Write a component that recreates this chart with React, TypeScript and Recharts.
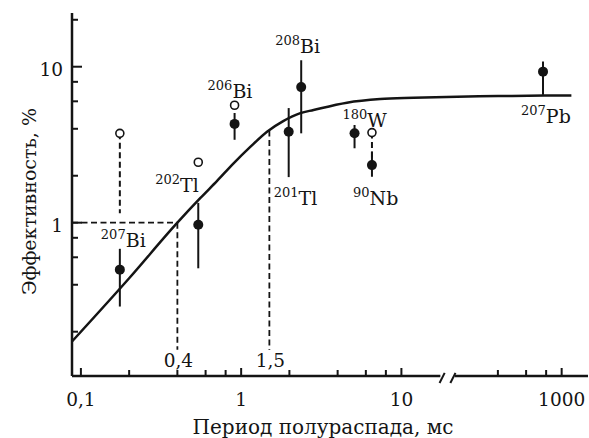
import React from 'react';
import {
  ComposedChart,
  Line,
  Scatter,
  XAxis,
  YAxis,
  ErrorBar,
  ReferenceLine,
} from 'recharts';

// ---- measured isotopes: half-life (ms) and efficiency (%) ----
const massNumbers = ['207', '202', '206', '201', '208', '180', '90', '207'];
const elements = ['Bi', 'Tl', 'Bi', 'Tl', 'Bi', 'W', 'Nb', 'Pb'];
const halfLife = [0.175, 0.54, 0.91, 1.98, 2.37, 5.1, 6.55, 765];
const efficiency = [0.5, 0.97, 4.3, 3.83, 7.4, 3.74, 2.34, 9.3];
const efficiencyLow = [0.29, 0.51, 3.4, 1.96, 3.74, 3.0, 1.97, 6.6];
const efficiencyHigh = [0.68, 1.34, 5.05, 5.43, 11.0, 4.23, 2.85, 10.8];
// label placement relative to the point (px)
const labelDx = [-19, -43, -27, -15, -26, -12, -19, -22];
const labelDy = [-23, -33, -26, 73, -34, -6, 40, 51];

// ---- alternative (open circle) estimates ----
const openHalfLife = [0.175, 0.54, 0.91, 6.55];
const openEfficiency = [3.74, 2.44, 5.66, 3.78];
// dashed guides from open circles down to these values (null = none)
const openGuideTo: (number | null)[] = [1.15, null, null, 2.34];

// ---- fitted curve ----
const curveHalfLife = [0.088, 0.2, 0.4, 0.557, 0.71, 0.9, 1.14, 1.45, 1.83, 2.34, 2.83, 4.57, 7.37, 11.9, 305, 490, 1150];
const curveEfficiency = [0.173, 0.44, 1.0, 1.44, 1.86, 2.41, 3.06, 3.83, 4.48, 5.04, 5.28, 5.88, 6.2, 6.32, 6.47, 6.5, 6.55];

// ---- axes ----
const xTicks = [0.1, 0.2, 0.4, 0.6, 0.8, 1, 2, 4, 6, 8, 10, 400, 600, 800, 1000];
const xTickLabels: Record<number, string> = { 0.1: '0,1', 1: '1', 10: '10', 1000: '1000' };
const yTicks = [0.2, 0.4, 0.6, 0.8, 1, 2, 4, 6, 8, 10, 20];
const yTickLabels: Record<number, string> = { 1: '1', 10: '10' };
const xRange = [0.088, 1460];
const yRange = [0.104, 22.1];
// broken x axis: the left part ends, the right part starts
const xBreak = [17.5, 215];

// ---- guide lines ----
const guideLevel = 1; // efficiency level
const guideTimes = [0.4, 1.5];
const guideTimeLabels = ['0,4', '1,5'];
const guideTop = [1, 3.9];
const guideBottom = 0.153;

const INK = '#141414';
const FONT = '"DejaVu Serif", serif';

// compressed log scale: the right part of the axis is shifted by one decade
const px = (t: number) => (t >= 100 ? Math.log10(t) - 1 : Math.log10(t));
const py = (e: number) => Math.log10(e);

const points = halfLife.map((t, i) => ({
  px: px(t),
  py: py(efficiency[i]),
  err: [py(efficiency[i]) - py(efficiencyLow[i]), py(efficiencyHigh[i]) - py(efficiency[i])],
  mass: massNumbers[i],
  element: elements[i],
  dx: labelDx[i],
  dy: labelDy[i],
}));
const openPoints = openHalfLife.map((t, i) => ({ px: px(t), py: py(openEfficiency[i]) }));
const curve = curveHalfLife.map((t, i) => ({ px: px(t), py: py(curveEfficiency[i]) }));

const XTick = (props: any) => {
  const { x, y, payload } = props;
  const v = xTicks.find((t) => Math.abs(px(t) - payload.value) < 1e-9);
  const label = v !== undefined ? xTickLabels[v] : undefined;
  return (
    <g>
      <line x1={x} x2={x} y1={y} y2={y - (label ? 8 : 6)} stroke={INK} strokeWidth={2} />
      {label && (
        <text x={x} y={y + 30} textAnchor="middle" fontFamily={FONT} fontSize={18.5} fill={INK}>
          {label}
        </text>
      )}
    </g>
  );
};

const YTick = (props: any) => {
  const { x, y, payload } = props;
  const v = yTicks.find((t) => Math.abs(py(t) - payload.value) < 1e-9);
  const label = v !== undefined ? yTickLabels[v] : undefined;
  return (
    <g>
      <line x1={x} x2={x + (label ? 10 : 6)} y1={y} y2={y} stroke={INK} strokeWidth={2} />
      {label && (
        <text x={x - 9} y={y + 9} textAnchor="end" fontFamily={FONT} fontSize={18.5} fill={INK}>
          {label}
        </text>
      )}
    </g>
  );
};

const FilledDot = (props: any) => {
  const { cx, cy, payload } = props;
  return (
    <g>
      <circle cx={cx} cy={cy} r={5} fill={INK} />
      <text x={cx + payload.dx} y={cy + payload.dy} fontFamily={FONT} fill={INK}>
        <tspan fontSize={13} dy={-8}>{payload.mass}</tspan>
        <tspan fontSize={19} dy={8}>{payload.element}</tspan>
      </text>
    </g>
  );
};

const OpenDot = (props: any) => {
  const { cx, cy } = props;
  return <circle cx={cx} cy={cy} r={4} fill="#fff" stroke={INK} strokeWidth={1.6} />;
};

export default function App() {
  const yBase = py(yRange[0]);
  return (
    <div style={{ position: 'absolute', left: 0, top: 0, width: 589, height: 438, background: '#fff' }}>
      <ComposedChart
        width={589}
        height={438}
        margin={{ top: 13, right: 1, bottom: 0, left: 0 }}
      >
        <XAxis
          dataKey="px"
          type="number"
          domain={[px(xRange[0]), px(xRange[1])]}
          allowDataOverflow
          ticks={xTicks.map(px)}
          interval={0}
          height={62}
          tickSize={0}
          tickMargin={0}
          axisLine={false}
          tickLine={false}
          tick={<XTick />}
          label={(p: any) => {
            const vb = p.viewBox;
            return (
              <text
                x={vb.x + vb.width / 2 - 7}
                y={vb.y + 58}
                textAnchor="middle"
                fontFamily={FONT}
                fontSize={20}
                fill={INK}
              >
                Период полураспада, мс
              </text>
            );
          }}
        />
        <YAxis
          dataKey="py"
          type="number"
          domain={[py(yRange[0]), py(yRange[1])]}
          allowDataOverflow
          ticks={yTicks.map(py)}
          interval={0}
          width={72}
          tickSize={0}
          tickMargin={0}
          axisLine={{ stroke: INK, strokeWidth: 2.5 }}
          tickLine={false}
          tick={<YTick />}
          label={(p: any) => {
            const vb = p.viewBox;
            const cx = 36;
            const cy = vb.y + vb.height / 2 + 7;
            return (
              <text
                x={cx}
                y={cy}
                transform={`rotate(-90 ${cx} ${cy})`}
                textAnchor="middle"
                fontFamily={FONT}
                fontSize={19}
                fill={INK}
              >
                Эффективность, %
              </text>
            );
          }}
        />

        {/* broken horizontal axis */}
        <ReferenceLine
          segment={[{ x: px(xRange[0]), y: yBase }, { x: px(xBreak[0]), y: yBase }]}
          stroke={INK}
          strokeWidth={2.5}
          ifOverflow="visible"
        />
        <ReferenceLine
          segment={[{ x: px(xBreak[1]), y: yBase }, { x: px(xRange[1]), y: yBase }]}
          stroke={INK}
          strokeWidth={2.5}
          ifOverflow="visible"
        />
        <ReferenceLine
          segment={[{ x: px(xBreak[0]) - 0.005, y: yBase - 0.045 }, { x: px(xBreak[0]) + 0.027, y: yBase + 0.02 }]}
          stroke={INK}
          strokeWidth={2}
          ifOverflow="visible"
        />
        <ReferenceLine
          segment={[{ x: px(xBreak[1]) - 0.027, y: yBase - 0.045 }, { x: px(xBreak[1]) + 0.005, y: yBase + 0.02 }]}
          stroke={INK}
          strokeWidth={2}
          ifOverflow="visible"
        />

        {/* guide lines */}
        <ReferenceLine
          segment={[{ x: px(xRange[0]), y: py(guideLevel) }, { x: px(guideTimes[0]), y: py(guideLevel) }]}
          stroke={INK}
          strokeWidth={1.8}
          strokeDasharray="6 3.5"
        />
        {guideTimes.map((t, i) => (
          <ReferenceLine
            key={`g${i}`}
            segment={[{ x: px(t), y: py(guideTop[i]) }, { x: px(t), y: py(guideBottom) }]}
            stroke={INK}
            strokeWidth={1.8}
            strokeDasharray="6 3.5"
            label={(p: any) => {
              const vb = p.viewBox;
              return (
                <text
                  x={vb.x + 1}
                  y={vb.y + vb.height + 17}
                  textAnchor="middle"
                  fontFamily={FONT}
                  fontSize={18.5}
                  fill={INK}
                >
                  {guideTimeLabels[i]}
                </text>
              );
            }}
          />
        ))}
        {openPoints.map((p, i) =>
          openGuideTo[i] === null ? null : (
            <ReferenceLine
              key={`o${i}`}
              segment={[{ x: p.px, y: p.py }, { x: p.px, y: py(openGuideTo[i] as number) }]}
              stroke={INK}
              strokeWidth={2}
              strokeDasharray="6 3.5"
            />
          )
        )}

        <Line
          data={curve}
          dataKey="py"
          type="monotone"
          stroke={INK}
          strokeWidth={2.5}
          dot={false}
          isAnimationActive={false}
        />
        <Scatter data={points} shape={<FilledDot />} isAnimationActive={false}>
          <ErrorBar dataKey="err" direction="y" width={0} stroke={INK} strokeWidth={2} />
        </Scatter>
        <Scatter data={openPoints} shape={<OpenDot />} isAnimationActive={false} />
      </ComposedChart>
    </div>
  );
}
